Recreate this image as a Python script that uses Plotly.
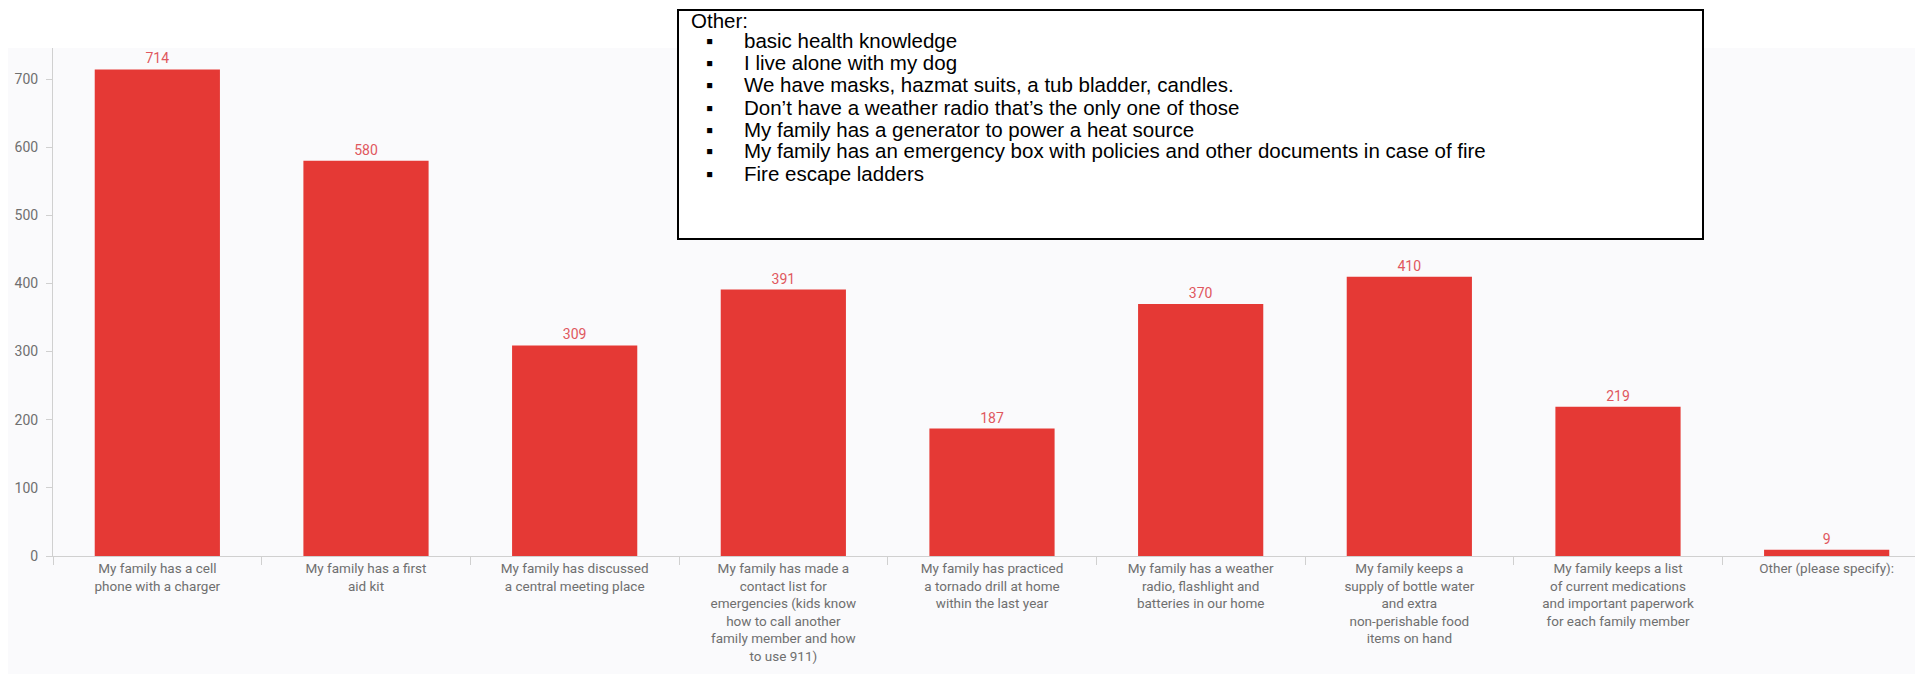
import plotly.graph_objects as go

categories = [
    "My family has a cell<br>phone with a charger",
    "My family has a first<br>aid kit",
    "My family has discussed<br>a central meeting place",
    "My family has made a<br>contact list for<br>emergencies (kids know<br>how to call another<br>family member and how<br>to use 911)",
    "My family has practiced<br>a tornado drill at home<br>within the last year",
    "My family has a weather<br>radio, flashlight and<br>batteries in our home",
    "My family keeps a<br>supply of bottle water<br>and extra<br>non-perishable food<br>items on hand",
    "My family keeps a list<br>of current medications<br>and important paperwork<br>for each family member",
    "Other (please specify):",
]
counts = [714, 580, 309, 391, 187, 370, 410, 219, 9]

box_title = "Other:"
other_responses = [
    "basic health knowledge",
    "I live alone with my dog",
    "We have masks, hazmat suits, a tub bladder, candles.",
    "Don\u2019t have a weather radio that\u2019s the only one of those",
    "My family has a generator to power a heat source",
    "My family has an emergency box with policies and other documents in case of fire",
    "Fire escape ladders",
]

W, H = 1923, 674
L, R, T, B = 45, 0, 39, 126
PW, PH = W - L - R, H - T - B

def px(x):
    return (x - L) / PW

def py(y):
    return (H - B - y) / PH

lab_font = "Roboto, sans-serif"
bg = "#fafafc"

fig = go.Figure(go.Bar(
    x=categories, y=counts,
    marker=dict(color="#e53935", line=dict(width=0)),
    texttemplate="%{y}", textposition="outside", cliponaxis=False,
    textfont=dict(family=lab_font, size=14, color="#e0575e"),
))

fig.update_layout(
    width=W, height=H,
    margin=dict(l=L, r=R, t=T, b=B),
    paper_bgcolor=bg, plot_bgcolor=bg,
    bargap=0.4, showlegend=False,
    font=dict(family=lab_font, size=13.5, color="#707070"),
    xaxis=dict(
        showgrid=False, showline=True, linecolor="#d0d0d0", linewidth=1,
        ticks="outside", tickson="boundaries", ticklen=8, tickcolor="#d0d0d0",
        tickfont=dict(family=lab_font, size=13.5, color="#6f6f6f"),
    ),
    yaxis=dict(
        range=[0, 747], dtick=100, showgrid=False, zeroline=False,
        showline=True, linecolor="#d0d0d0", linewidth=1,
        ticks="outside", ticklen=6, tickcolor="#d0d0d0", ticklabelstandoff=5,
        tickfont=dict(family=lab_font, size=14, color="#6f6f6f"),
    ),
)

shapes = [
    # white strip above chart area
    dict(type="rect", xref="paper", yref="paper", x0=px(0), x1=px(W), y0=py(40), y1=py(0),
         fillcolor="white", line=dict(width=0), layer="above"),
    # the "Other" call-out box
    dict(type="rect", xref="paper", yref="paper", x0=px(670), x1=px(1695), y0=py(231), y1=py(2),
         fillcolor="white", line=dict(color="black", width=2), layer="above"),
]
fig.update_layout(shapes=shapes)

box_font = dict(family="Liberation Sans, Arial, sans-serif", size=20.5, color="black")
ann = [dict(xref="paper", yref="paper", x=px(681), y=py(13), text=box_title,
            showarrow=False, xanchor="left", yanchor="middle", font=box_font)]
for i, t in enumerate(other_responses):
    yy = 33 + i * 22
    ann.append(dict(xref="paper", yref="paper", x=px(701), y=py(yy), text="\u25aa",
                    showarrow=False, xanchor="center", yanchor="middle", font=box_font))
    ann.append(dict(xref="paper", yref="paper", x=px(734), y=py(yy), text=t,
                    showarrow=False, xanchor="left", yanchor="middle", font=box_font))
fig.update_layout(annotations=ann)

fig.write_html("out.html")
